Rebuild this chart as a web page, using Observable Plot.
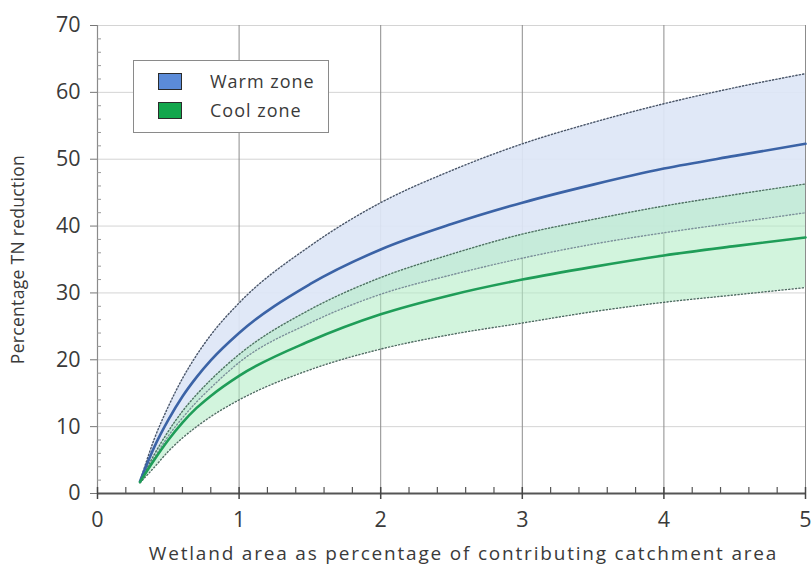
<!DOCTYPE html>
<html>
<head>
<meta charset="utf-8">
<script src="https://cdn.jsdelivr.net/npm/d3@7"></script>
<script src="https://cdn.jsdelivr.net/npm/@observablehq/plot@0.6"></script>
<style>
  html, body { margin: 0; padding: 0; background: #fff; }
  #wrap { position: relative; width: 812px; height: 576px; font-family: "Open Sans", sans-serif; }
  #legend { position: absolute; left: 133px; top: 60px; width: 196px; height: 73px; background: #fff; border: 1px solid #8a8a8a; box-sizing: border-box; }
  .item { position: absolute; left: 24px; display: flex; align-items: center; font-size: 18px; color: #3a3a3a; letter-spacing: 1px; }
  .sw { width: 24px; height: 17px; border: 1.5px solid #2b2b2b; box-sizing: border-box; margin-right: 28px; }
  svg [aria-label="x-axis label"] text { font-size: 19px; letter-spacing: 1.8px; fill: #3a3a3a; }
  svg [aria-label="y-axis label"] text { font-size: 17.5px; letter-spacing: 0.3px; fill: #3a3a3a; }
</style>
</head>
<body>
<div id="wrap"></div>
<script>
// Values
const xs         = [0.3, 0.4, 0.5, 0.6, 0.7, 0.8, 1, 1.5, 2, 2.5, 3, 3.5, 4, 4.5, 5];
const warmUpper  = [1.8, 8.1, 13.0, 17.2, 20.7, 23.7, 28.5, 37.0, 43.5, 48.3, 52.3, 55.5, 58.3, 60.7, 62.8];
const warmMid    = [1.8, 6.9, 11.0, 14.5, 17.4, 19.9, 24.0, 31.3, 36.5, 40.3, 43.5, 46.2, 48.6, 50.5, 52.3];
const warmLower  = [1.7, 5.3, 8.6, 11.3, 13.7, 15.8, 19.6, 25.5, 29.8, 32.7, 35.2, 37.3, 39.0, 40.5, 42.0];
const coolUpper  = [1.7, 5.8, 9.3, 12.3, 14.8, 17.0, 20.8, 27.5, 32.3, 35.8, 38.8, 41.0, 43.0, 44.7, 46.3];
const coolMid    = [1.7, 5.0, 8.0, 10.6, 12.8, 14.6, 17.6, 22.8, 26.8, 29.7, 32.0, 33.9, 35.6, 37.0, 38.3];
const coolLower  = [1.6, 3.9, 6.3, 8.3, 10.0, 11.5, 14.0, 18.5, 21.6, 23.8, 25.5, 27.2, 28.6, 29.7, 30.8];

const xTicks      = [0, 1, 2, 3, 4, 5];
const xMinorTicks = [0.2, 0.4, 0.6, 0.8, 1.2, 1.4, 1.6, 1.8, 2.2, 2.4, 2.6, 2.8, 3.2, 3.4, 3.6, 3.8, 4.2, 4.4, 4.6, 4.8];
const yTicks      = [0, 10, 20, 30, 40, 50, 60, 70];
const yMinorTicks = [2,4,6,8,12,14,16,18,22,24,26,28,32,34,36,38,42,44,46,48,52,54,56,58,62,64,66,68];
const legendItems = ["Warm zone", "Cool zone"];
const xLabel = "Wetland area as percentage of contributing catchment area";
const yLabel = "Percentage TN reduction";

const rows = xs.map((x, i) => ({
  x, wu: warmUpper[i], wm: warmMid[i], wl: warmLower[i],
  cu: coolUpper[i], cm: coolMid[i], cl: coolLower[i]
}));

const curve = "monotone-x";
const dotted = {strokeWidth: 1.4, strokeDasharray: "1.2,2.2", curve};

const chart = Plot.plot({
  width: 812,
  height: 576,
  marginLeft: 97,
  marginRight: 7,
  marginTop: 25,
  marginBottom: 83,
  style: {fontFamily: "Open Sans, sans-serif", fontSize: "18px", color: "#3a3a3a", background: "#fff"},
  x: {domain: [0, 5]},
  y: {domain: [0, 70]},
  marks: [
    Plot.gridY(yTicks.filter(d => d > 0), {stroke: "#d4d4d4", strokeOpacity: 1, strokeWidth: 1}),
    Plot.gridX(xTicks.filter(d => d > 0), {stroke: "#8c8c8c", strokeOpacity: 1, strokeWidth: 1}),
    Plot.areaY(rows, {x: "x", y1: "wl", y2: "wu", fill: "#dde6f6", fillOpacity: 0.92, curve}),
    Plot.areaY(rows, {x: "x", y1: "cl", y2: "cu", fill: "#b4ecc6", fillOpacity: 0.6, curve}),
    Plot.lineY(rows, {x: "x", y: "wu", stroke: "#4a5566", ...dotted}),
    Plot.lineY(rows, {x: "x", y: "wl", stroke: "#7a8f9a", ...dotted}),
    Plot.lineY(rows, {x: "x", y: "cu", stroke: "#4f6f63", ...dotted}),
    Plot.lineY(rows, {x: "x", y: "cl", stroke: "#4f6f63", ...dotted}),
    Plot.lineY(rows, {x: "x", y: "wm", stroke: "#3b63a6", strokeWidth: 2.6, curve}),
    Plot.lineY(rows, {x: "x", y: "cm", stroke: "#1f9d58", strokeWidth: 2.6, curve}),
    // y axis line and ticks
    Plot.ruleX([0], {stroke: "#8a8a8a", strokeWidth: 1.2}),
    Plot.axisY(yTicks, {tickSize: 7, text: null, label: null, stroke: "#777"}),
    Plot.axisY(yMinorTicks, {tickSize: -4, text: null, label: null, stroke: "#999"}),
    Plot.axisY(yTicks, {tickSize: 0, tickPadding: 17, fill: "#3a3a3a", tickFormat: d => d,
      label: yLabel, labelAnchor: "center", labelOffset: 86, labelArrow: "none"}),
    // x axis line and ticks
    Plot.ruleY([0], {stroke: "#555", strokeWidth: 2}),
    Plot.axisX(xTicks, {tickSize: 6, text: null, label: null, stroke: "#444", strokeWidth: 1.5}),
    Plot.axisX(xTicks, {tickSize: -6, text: null, label: null, stroke: "#444", strokeWidth: 1.5}),
    Plot.axisX(xMinorTicks, {tickSize: -6, text: null, label: null, stroke: "#555", strokeWidth: 1.2}),
    Plot.axisX(xTicks, {tickSize: 0, tickPadding: 18, fill: "#3a3a3a", tickFormat: d => d,
      label: xLabel, labelAnchor: "center", labelOffset: 66, labelArrow: "none"})
  ]
});

const wrap = document.getElementById("wrap");
wrap.appendChild(chart);
const svg = d3.select(chart);
// enlarge tick labels (numeric texts only)
svg.selectAll("text")
  .filter(function() { return /^\d+$/.test(this.textContent.trim()); })
  .style("font-size", "21.5px");
// nudge the x-axis title to the reference's centre
svg.select('[aria-label="x-axis label"] text').attr("dx", 12);

const legend = document.createElement("div");
legend.id = "legend";
const swColors = ["#5b8bd8", "#12a64c"];
legendItems.forEach((name, i) => {
  const item = document.createElement("div");
  item.className = "item";
  item.style.top = (i === 0 ? 8 : 37) + "px";
  const sw = document.createElement("div");
  sw.className = "sw";
  sw.style.background = swColors[i];
  const t = document.createElement("span");
  t.textContent = name;
  item.appendChild(sw);
  item.appendChild(t);
  legend.appendChild(item);
});
wrap.appendChild(legend);
</script>
</body>
</html>
